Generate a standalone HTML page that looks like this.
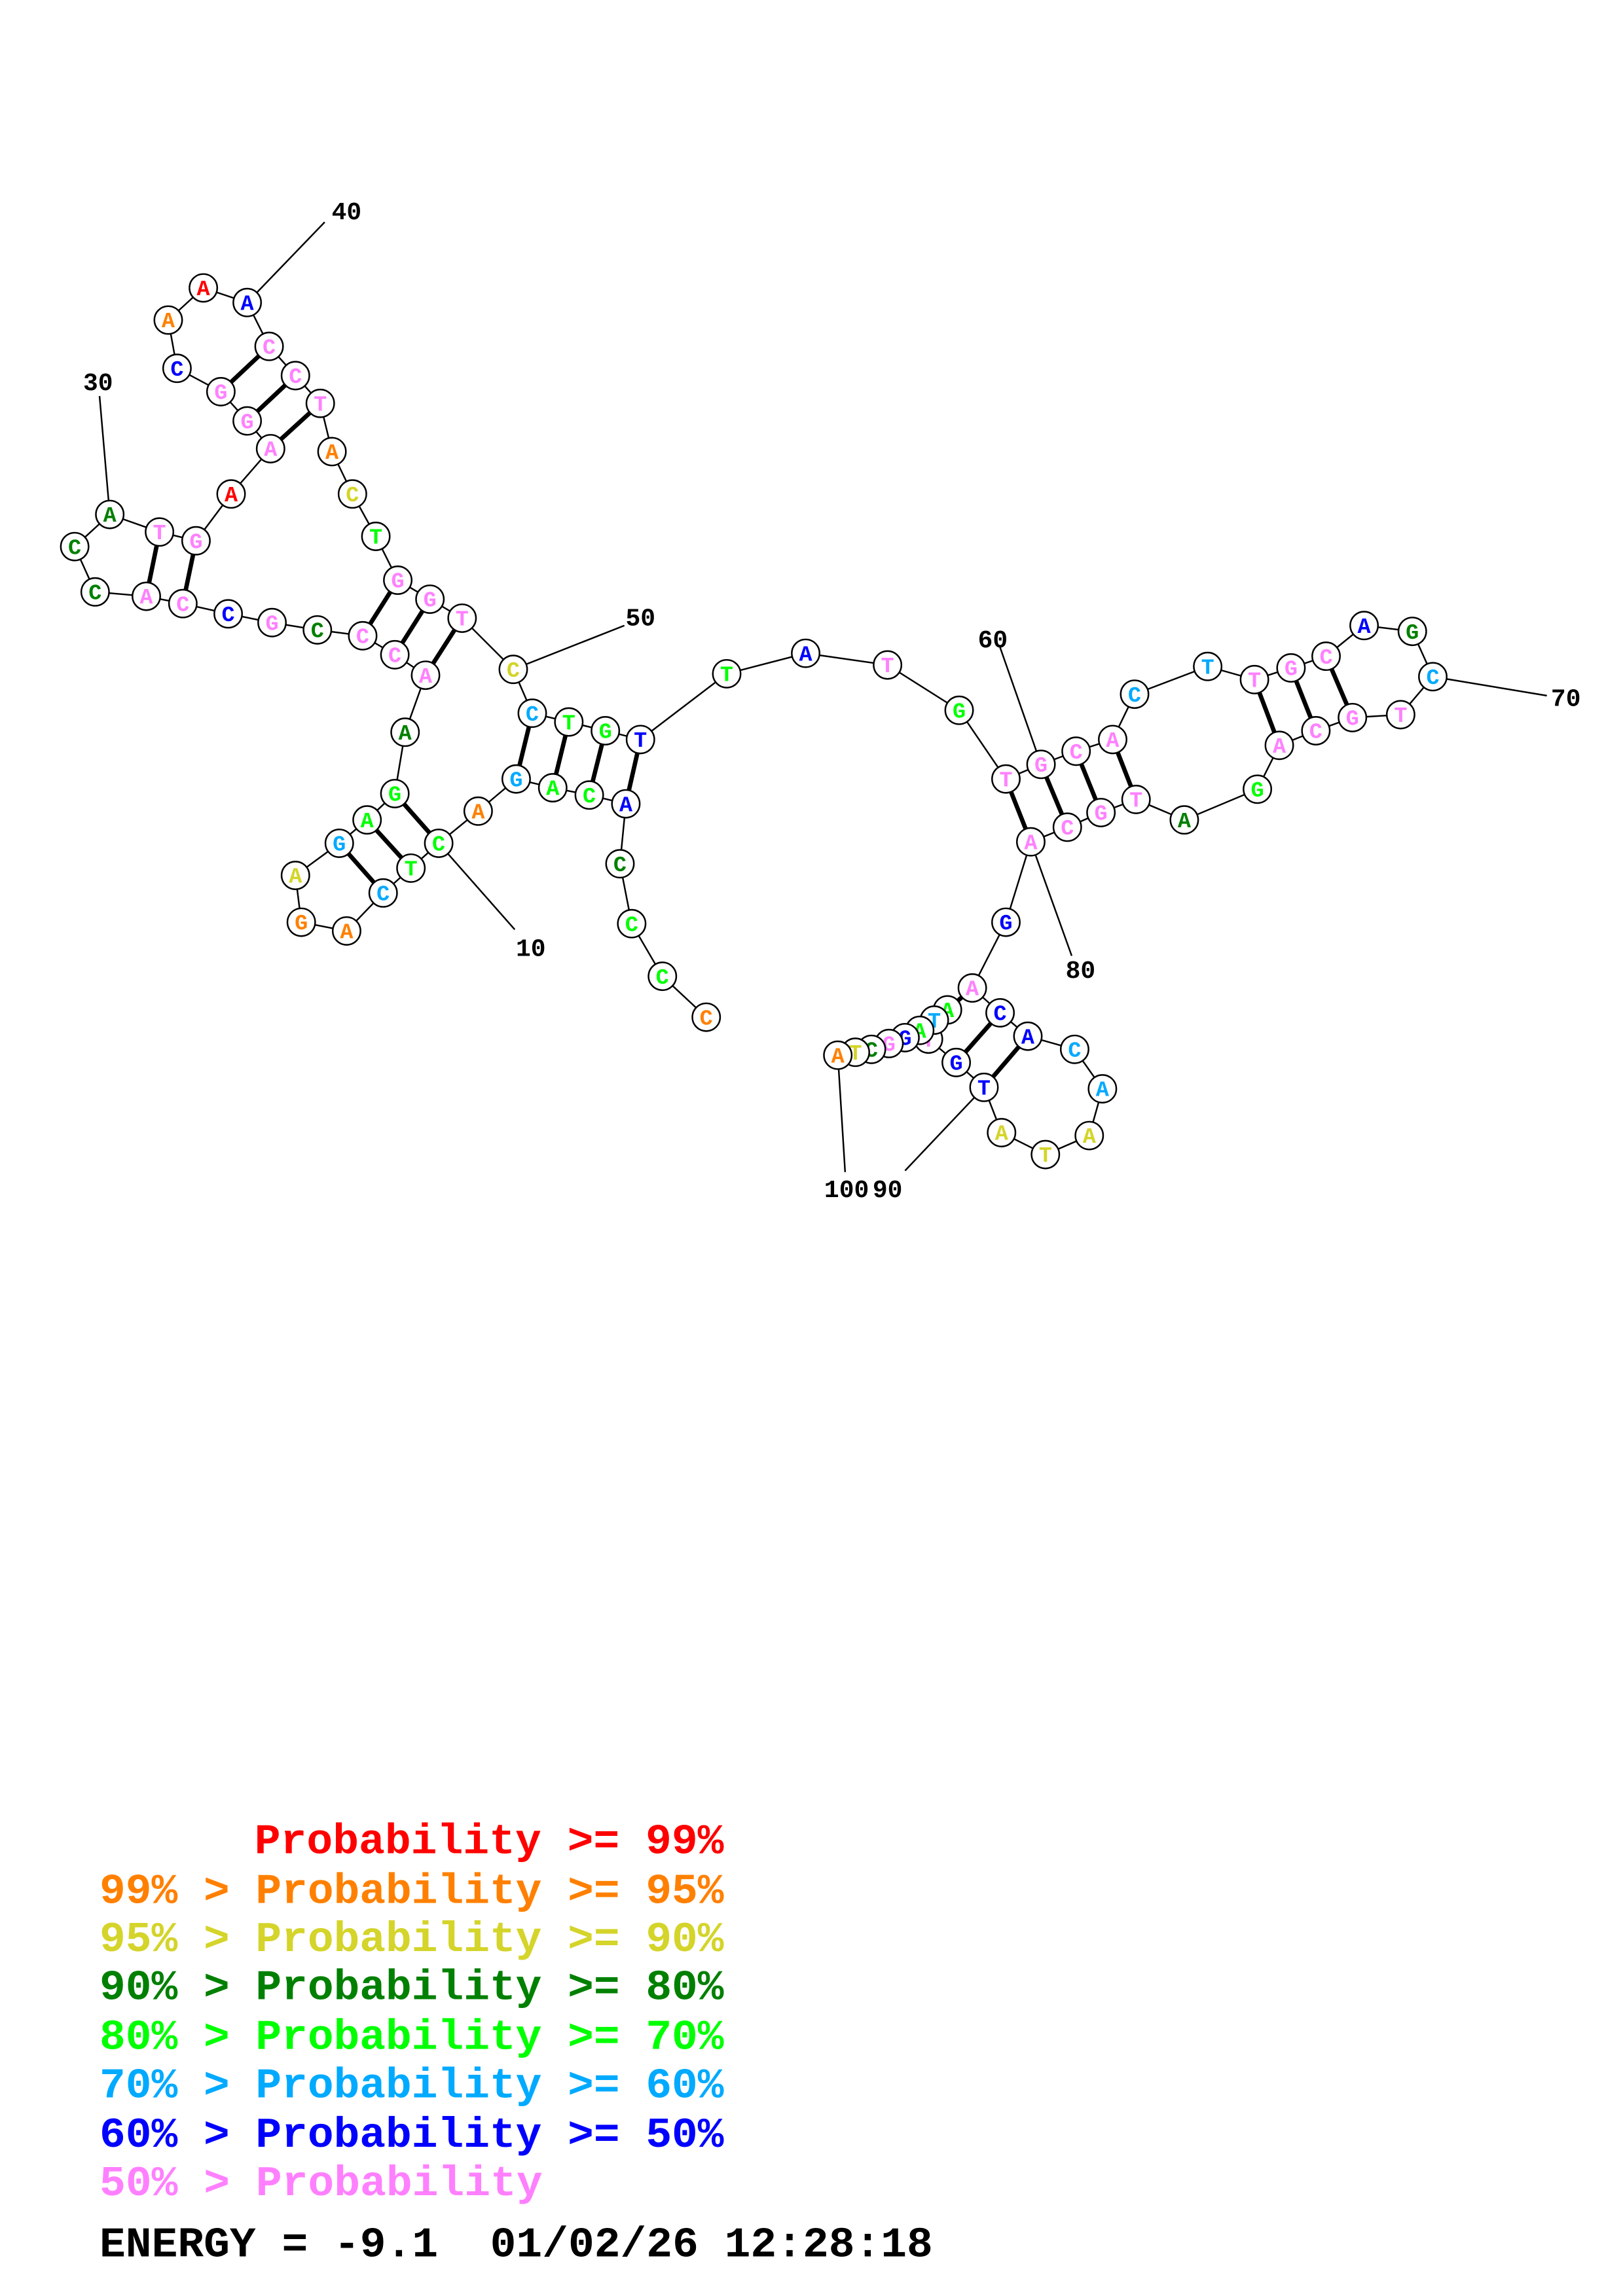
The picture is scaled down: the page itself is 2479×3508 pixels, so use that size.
<!DOCTYPE html>
<html><head><meta charset="utf-8"><style>
html,body{margin:0;padding:0;background:#fff;}
svg{display:block;}
.n circle{fill:#fff;stroke:#000;stroke-width:1.1;}
.n text{font-family:"Liberation Mono",monospace;font-weight:bold;font-size:15px;text-anchor:middle;}
.lb{font-family:"Liberation Mono",monospace;font-weight:bold;font-size:17px;fill:#000;text-anchor:middle;}
.lg{font-family:"Liberation Mono",monospace;font-weight:bold;font-size:29px;}
</style></head><body>
<svg width="2479" height="3508" viewBox="0 0 1110 1571" xmlns="http://www.w3.org/2000/svg">
<rect width="1110" height="1571" fill="#fff"/>
<polyline fill="none" stroke="#000" stroke-width="1.1" points="483,696 453,668 432,632 424,591 428,550 403,544 378,539 353,533 327,555 300,577 281,594 262,611 237,637 206,631 202,599 232,577 251,561 270,543 277,501 291,462 270,448 248,435 217,431 186,426 156,420 125,413 100,408 65,405 51,374 75,352 109,364 134,370 158,338 185,307 169,288 151,268 121,252 115,219 139,197 169,207 184,237 202,257 219,276 227,309 241,338 257,367 272,397 294,410 316,423 351,458 364,488 389,494 414,500 438,506 497,461 551,447 607,455 656,486 688,533 712,523 736,514 761,506 776,475 826,456 858,465 883,457 907,449 933,428 966,432 980,463 958,489 925,491 900,500 875,510 860,540 810,561 777,547 753,556 730,566 705,576 688,631 665,676 684,693 703,709 735,718 754,745 745,777 715,790 685,775 673,744 654,727 635,711 648,691 639,698 629,705 619,710 608,714 596,718 585,720 573,722"/>
<g stroke="#000" stroke-width="3">
<line x1="232" y1="577" x2="262" y2="611"/><line x1="251" y1="561" x2="281" y2="594"/><line x1="270" y1="543" x2="300" y2="577"/>
<line x1="248" y1="435" x2="272" y2="397"/><line x1="270" y1="448" x2="294" y2="410"/><line x1="291" y1="462" x2="316" y2="423"/>
<line x1="109" y1="364" x2="100" y2="408"/><line x1="134" y1="370" x2="125" y2="413"/>
<line x1="151" y1="268" x2="184" y2="237"/><line x1="169" y1="288" x2="202" y2="257"/><line x1="185" y1="307" x2="219" y2="276"/>
<line x1="353" y1="533" x2="364" y2="488"/><line x1="378" y1="539" x2="389" y2="494"/><line x1="403" y1="544" x2="414" y2="500"/><line x1="428" y1="550" x2="438" y2="506"/>
<line x1="688" y1="533" x2="705" y2="576"/><line x1="712" y1="523" x2="730" y2="566"/><line x1="736" y1="514" x2="753" y2="556"/><line x1="761" y1="506" x2="777" y2="547"/>
<line x1="858" y1="465" x2="875" y2="510"/><line x1="883" y1="457" x2="900" y2="500"/><line x1="907" y1="449" x2="925" y2="491"/>
<line x1="684" y1="693" x2="654" y2="727"/><line x1="703" y1="709" x2="673" y2="744"/>
<line x1="665" y1="676" x2="648" y2="691"/>
</g>
<g stroke="#000" stroke-width="1.1">
<line x1="300" y1="577" x2="352" y2="636"/>
<line x1="68" y1="271" x2="75" y2="352"/>
<line x1="222" y1="152" x2="169" y2="207"/>
<line x1="427" y1="428" x2="351" y2="458"/>
<line x1="684" y1="443" x2="712" y2="523"/>
<line x1="1058" y1="476" x2="980" y2="463"/>
<line x1="705" y1="576" x2="733" y2="654"/>
<line x1="673" y1="744" x2="619" y2="801"/>
<line x1="573" y1="722" x2="578" y2="802"/>
</g>
<text class="lb" x="363" y="654">10</text>
<text class="lb" x="67" y="267">30</text>
<text class="lb" x="237" y="150">40</text>
<text class="lb" x="438" y="428">50</text>
<text class="lb" x="679" y="443">60</text>
<text class="lb" x="1071" y="483">70</text>
<text class="lb" x="739" y="669">80</text>
<text class="lb" x="607" y="819">90</text>
<text class="lb" x="579" y="819">100</text>
<g class="n">
<circle cx="483" cy="696" r="9.5"/><text x="483" y="701" fill="#ff8000">C</text>
<circle cx="453" cy="668" r="9.5"/><text x="453" y="673" fill="#00ff00">C</text>
<circle cx="432" cy="632" r="9.5"/><text x="432" y="637" fill="#00ff00">C</text>
<circle cx="424" cy="591" r="9.5"/><text x="424" y="596" fill="#008000">C</text>
<circle cx="428" cy="550" r="9.5"/><text x="428" y="555" fill="#0000ff">A</text>
<circle cx="403" cy="544" r="9.5"/><text x="403" y="549" fill="#00ff00">C</text>
<circle cx="378" cy="539" r="9.5"/><text x="378" y="544" fill="#00ff00">A</text>
<circle cx="353" cy="533" r="9.5"/><text x="353" y="538" fill="#00aaff">G</text>
<circle cx="327" cy="555" r="9.5"/><text x="327" y="560" fill="#ff8000">A</text>
<circle cx="300" cy="577" r="9.5"/><text x="300" y="582" fill="#00ff00">C</text>
<circle cx="281" cy="594" r="9.5"/><text x="281" y="599" fill="#00ff00">T</text>
<circle cx="262" cy="611" r="9.5"/><text x="262" y="616" fill="#00aaff">C</text>
<circle cx="237" cy="637" r="9.5"/><text x="237" y="642" fill="#ff8000">A</text>
<circle cx="206" cy="631" r="9.5"/><text x="206" y="636" fill="#ff8000">G</text>
<circle cx="202" cy="599" r="9.5"/><text x="202" y="604" fill="#d4d42a">A</text>
<circle cx="232" cy="577" r="9.5"/><text x="232" y="582" fill="#00aaff">G</text>
<circle cx="251" cy="561" r="9.5"/><text x="251" y="566" fill="#00ff00">A</text>
<circle cx="270" cy="543" r="9.5"/><text x="270" y="548" fill="#00ff00">G</text>
<circle cx="277" cy="501" r="9.5"/><text x="277" y="506" fill="#008000">A</text>
<circle cx="291" cy="462" r="9.5"/><text x="291" y="467" fill="#ff80ff">A</text>
<circle cx="270" cy="448" r="9.5"/><text x="270" y="453" fill="#ff80ff">C</text>
<circle cx="248" cy="435" r="9.5"/><text x="248" y="440" fill="#ff80ff">C</text>
<circle cx="217" cy="431" r="9.5"/><text x="217" y="436" fill="#008000">C</text>
<circle cx="186" cy="426" r="9.5"/><text x="186" y="431" fill="#ff80ff">G</text>
<circle cx="156" cy="420" r="9.5"/><text x="156" y="425" fill="#0000ff">C</text>
<circle cx="125" cy="413" r="9.5"/><text x="125" y="418" fill="#ff80ff">C</text>
<circle cx="100" cy="408" r="9.5"/><text x="100" y="413" fill="#ff80ff">A</text>
<circle cx="65" cy="405" r="9.5"/><text x="65" y="410" fill="#008000">C</text>
<circle cx="51" cy="374" r="9.5"/><text x="51" y="379" fill="#008000">C</text>
<circle cx="75" cy="352" r="9.5"/><text x="75" y="357" fill="#008000">A</text>
<circle cx="109" cy="364" r="9.5"/><text x="109" y="369" fill="#ff80ff">T</text>
<circle cx="134" cy="370" r="9.5"/><text x="134" y="375" fill="#ff80ff">G</text>
<circle cx="158" cy="338" r="9.5"/><text x="158" y="343" fill="#ff0000">A</text>
<circle cx="185" cy="307" r="9.5"/><text x="185" y="312" fill="#ff80ff">A</text>
<circle cx="169" cy="288" r="9.5"/><text x="169" y="293" fill="#ff80ff">G</text>
<circle cx="151" cy="268" r="9.5"/><text x="151" y="273" fill="#ff80ff">G</text>
<circle cx="121" cy="252" r="9.5"/><text x="121" y="257" fill="#0000ff">C</text>
<circle cx="115" cy="219" r="9.5"/><text x="115" y="224" fill="#ff8000">A</text>
<circle cx="139" cy="197" r="9.5"/><text x="139" y="202" fill="#ff0000">A</text>
<circle cx="169" cy="207" r="9.5"/><text x="169" y="212" fill="#0000ff">A</text>
<circle cx="184" cy="237" r="9.5"/><text x="184" y="242" fill="#ff80ff">C</text>
<circle cx="202" cy="257" r="9.5"/><text x="202" y="262" fill="#ff80ff">C</text>
<circle cx="219" cy="276" r="9.5"/><text x="219" y="281" fill="#ff80ff">T</text>
<circle cx="227" cy="309" r="9.5"/><text x="227" y="314" fill="#ff8000">A</text>
<circle cx="241" cy="338" r="9.5"/><text x="241" y="343" fill="#d4d42a">C</text>
<circle cx="257" cy="367" r="9.5"/><text x="257" y="372" fill="#00ff00">T</text>
<circle cx="272" cy="397" r="9.5"/><text x="272" y="402" fill="#ff80ff">G</text>
<circle cx="294" cy="410" r="9.5"/><text x="294" y="415" fill="#ff80ff">G</text>
<circle cx="316" cy="423" r="9.5"/><text x="316" y="428" fill="#ff80ff">T</text>
<circle cx="351" cy="458" r="9.5"/><text x="351" y="463" fill="#d4d42a">C</text>
<circle cx="364" cy="488" r="9.5"/><text x="364" y="493" fill="#00aaff">C</text>
<circle cx="389" cy="494" r="9.5"/><text x="389" y="499" fill="#00ff00">T</text>
<circle cx="414" cy="500" r="9.5"/><text x="414" y="505" fill="#00ff00">G</text>
<circle cx="438" cy="506" r="9.5"/><text x="438" y="511" fill="#0000ff">T</text>
<circle cx="497" cy="461" r="9.5"/><text x="497" y="466" fill="#00ff00">T</text>
<circle cx="551" cy="447" r="9.5"/><text x="551" y="452" fill="#0000ff">A</text>
<circle cx="607" cy="455" r="9.5"/><text x="607" y="460" fill="#ff80ff">T</text>
<circle cx="656" cy="486" r="9.5"/><text x="656" y="491" fill="#00ff00">G</text>
<circle cx="688" cy="533" r="9.5"/><text x="688" y="538" fill="#ff80ff">T</text>
<circle cx="712" cy="523" r="9.5"/><text x="712" y="528" fill="#ff80ff">G</text>
<circle cx="736" cy="514" r="9.5"/><text x="736" y="519" fill="#ff80ff">C</text>
<circle cx="761" cy="506" r="9.5"/><text x="761" y="511" fill="#ff80ff">A</text>
<circle cx="776" cy="475" r="9.5"/><text x="776" y="480" fill="#00aaff">C</text>
<circle cx="826" cy="456" r="9.5"/><text x="826" y="461" fill="#00aaff">T</text>
<circle cx="858" cy="465" r="9.5"/><text x="858" y="470" fill="#ff80ff">T</text>
<circle cx="883" cy="457" r="9.5"/><text x="883" y="462" fill="#ff80ff">G</text>
<circle cx="907" cy="449" r="9.5"/><text x="907" y="454" fill="#ff80ff">C</text>
<circle cx="933" cy="428" r="9.5"/><text x="933" y="433" fill="#0000ff">A</text>
<circle cx="966" cy="432" r="9.5"/><text x="966" y="437" fill="#008000">G</text>
<circle cx="980" cy="463" r="9.5"/><text x="980" y="468" fill="#00aaff">C</text>
<circle cx="958" cy="489" r="9.5"/><text x="958" y="494" fill="#ff80ff">T</text>
<circle cx="925" cy="491" r="9.5"/><text x="925" y="496" fill="#ff80ff">G</text>
<circle cx="900" cy="500" r="9.5"/><text x="900" y="505" fill="#ff80ff">C</text>
<circle cx="875" cy="510" r="9.5"/><text x="875" y="515" fill="#ff80ff">A</text>
<circle cx="860" cy="540" r="9.5"/><text x="860" y="545" fill="#00ff00">G</text>
<circle cx="810" cy="561" r="9.5"/><text x="810" y="566" fill="#008000">A</text>
<circle cx="777" cy="547" r="9.5"/><text x="777" y="552" fill="#ff80ff">T</text>
<circle cx="753" cy="556" r="9.5"/><text x="753" y="561" fill="#ff80ff">G</text>
<circle cx="730" cy="566" r="9.5"/><text x="730" y="571" fill="#ff80ff">C</text>
<circle cx="705" cy="576" r="9.5"/><text x="705" y="581" fill="#ff80ff">A</text>
<circle cx="688" cy="631" r="9.5"/><text x="688" y="636" fill="#0000ff">G</text>
<circle cx="665" cy="676" r="9.5"/><text x="665" y="681" fill="#ff80ff">A</text>
<circle cx="684" cy="693" r="9.5"/><text x="684" y="698" fill="#0000ff">C</text>
<circle cx="703" cy="709" r="9.5"/><text x="703" y="714" fill="#0000ff">A</text>
<circle cx="735" cy="718" r="9.5"/><text x="735" y="723" fill="#00aaff">C</text>
<circle cx="754" cy="745" r="9.5"/><text x="754" y="750" fill="#00aaff">A</text>
<circle cx="745" cy="777" r="9.5"/><text x="745" y="782" fill="#d4d42a">A</text>
<circle cx="715" cy="790" r="9.5"/><text x="715" y="795" fill="#d4d42a">T</text>
<circle cx="685" cy="775" r="9.5"/><text x="685" y="780" fill="#d4d42a">A</text>
<circle cx="673" cy="744" r="9.5"/><text x="673" y="749" fill="#0000ff">T</text>
<circle cx="654" cy="727" r="9.5"/><text x="654" y="732" fill="#0000ff">G</text>
<circle cx="635" cy="711" r="9.5"/><text x="635" y="716" fill="#ff80ff">T</text>
<circle cx="648" cy="691" r="9.5"/><text x="648" y="696" fill="#00ff00">A</text>
<circle cx="639" cy="698" r="9.5"/><text x="639" y="703" fill="#00aaff">T</text>
<circle cx="629" cy="705" r="9.5"/><text x="629" y="710" fill="#00ff00">A</text>
<circle cx="619" cy="710" r="9.5"/><text x="619" y="715" fill="#0000ff">G</text>
<circle cx="608" cy="714" r="9.5"/><text x="608" y="719" fill="#ff80ff">G</text>
<circle cx="596" cy="718" r="9.5"/><text x="596" y="723" fill="#008000">C</text>
<circle cx="585" cy="720" r="9.5"/><text x="585" y="725" fill="#d4d42a">T</text>
<circle cx="573" cy="722" r="9.5"/><text x="573" y="727" fill="#ff8000">A</text>
</g>
<g class="lg">
<text x="174" y="1268" fill="#ff0000" textLength="321" lengthAdjust="spacingAndGlyphs">Probability &gt;= 99%</text>
<text x="68" y="1302" fill="#ff8000" textLength="427" lengthAdjust="spacingAndGlyphs">99% &gt; Probability &gt;= 95%</text>
<text x="68" y="1335" fill="#d4d42a" textLength="427" lengthAdjust="spacingAndGlyphs">95% &gt; Probability &gt;= 90%</text>
<text x="68" y="1368" fill="#008000" textLength="427" lengthAdjust="spacingAndGlyphs">90% &gt; Probability &gt;= 80%</text>
<text x="68" y="1402" fill="#00ff00" textLength="427" lengthAdjust="spacingAndGlyphs">80% &gt; Probability &gt;= 70%</text>
<text x="68" y="1435" fill="#00aaff" textLength="427" lengthAdjust="spacingAndGlyphs">70% &gt; Probability &gt;= 60%</text>
<text x="68" y="1469" fill="#0000ff" textLength="427" lengthAdjust="spacingAndGlyphs">60% &gt; Probability &gt;= 50%</text>
<text x="68" y="1502" fill="#ff80ff" textLength="303" lengthAdjust="spacingAndGlyphs">50% &gt; Probability</text>
<text x="68" y="1544" fill="#000" textLength="570" lengthAdjust="spacingAndGlyphs">ENERGY = -9.1&#160;&#160;01/02/26 12:28:18</text>
</g>
</svg>
</body></html>
